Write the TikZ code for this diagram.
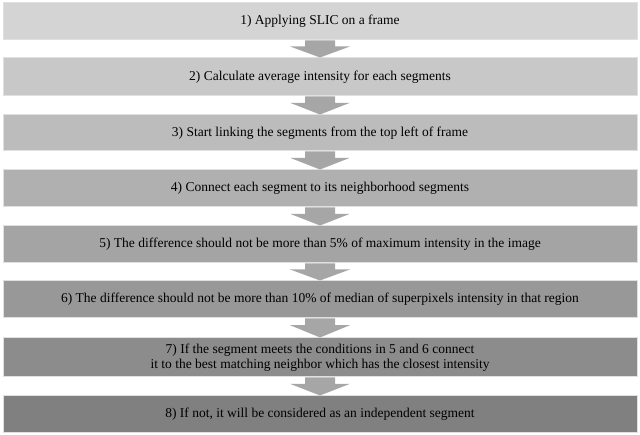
\documentclass[tikz,border=0pt]{standalone}
\usepackage{fontspec}
\setmainfont{Liberation Serif}
\usetikzlibrary{calc}
\begin{document}
\begin{tikzpicture}[x=1pt,y=-1pt,
  boxstyle/.style={draw=black!12,line width=1pt,minimum width=634pt,inner sep=0pt,align=center,font=\fontsize{13.5}{15}\selectfont},
  arr/.style={fill=black!35,draw=none}]
\useasboundingbox (0,0) rectangle (640,435);
\foreach \t/\b/\g/\n/\txt in {
  3/40/212/b1/{1) Applying SLIC on a frame},
  58/96/200/b2/{2) Calculate average intensity for each segments},
  115/151/188/b3/{3) Start linking the segments from the top left of frame},
  170/207/176/b4/{4) Connect each segment to its neighborhood segments},
  226/263/164/b5/{5) The difference should not be more than 5\% of maximum intensity in the image},
  281/318/152/b6/{6) The difference should not be more than 10\% of median of superpixels intensity in that region},
  338/377/140/b7/{7) If the segment meets the conditions in 5 and 6 connect\\ it to the best matching neighbor which has the closest intensity},
  396/433/128/b8/{8) If not, it will be considered as an independent segment}}{
  \definecolor{c\n}{RGB}{\g,\g,\g}
  \node[boxstyle,fill=c\n,minimum height={\b-\t}] (\n) at (320,{(\t+\b)/2}) {\txt};
}
\foreach \a/\c in {b1/b2,b2/b3,b3/b4,b4/b5,b5/b6,b6/b7,b7/b8}{
  \path (\a.south) coordinate (s) (\c.north) coordinate (e);
  \fill[arr] ($(s)+(-15,0)$) -- ($(s)+(15,0)$) -- ($(s)!0.35!(e)+(15,0)$) -- ($(s)!0.35!(e)+(30,0)$) -- (e) -- ($(s)!0.35!(e)+(-30,0)$) -- ($(s)!0.35!(e)+(-15,0)$) -- cycle;
}
\end{tikzpicture}
\end{document}
